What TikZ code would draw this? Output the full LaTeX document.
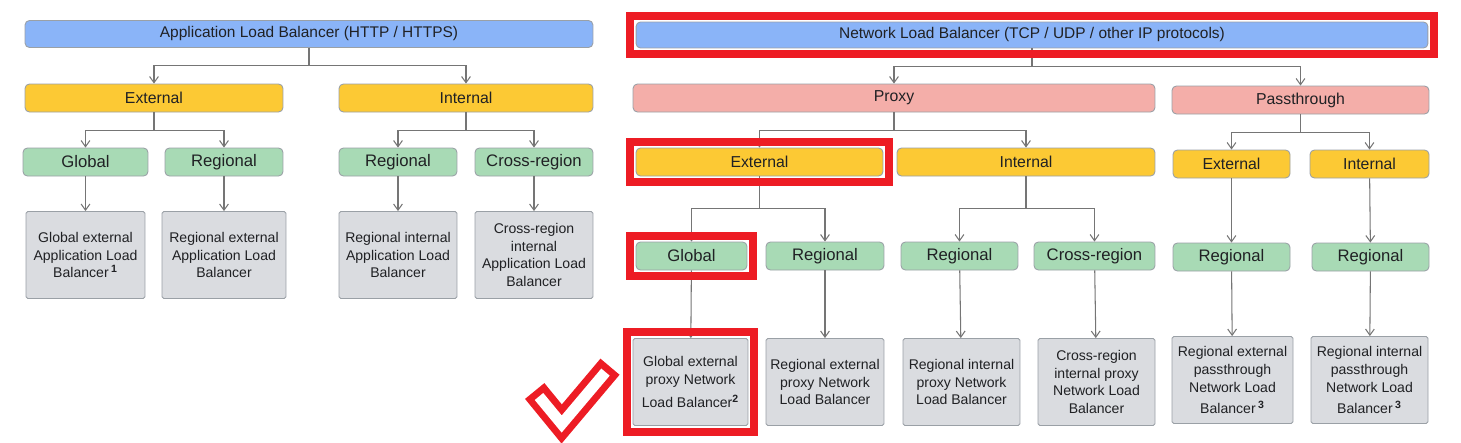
\documentclass[tikz,border=0pt]{standalone}
\usepackage{fontspec}
\setmainfont{Liberation Sans}
\usetikzlibrary{arrows.meta}

\definecolor{lbblue}{HTML}{8AB4F8}
\definecolor{lbyellow}{HTML}{FCC934}
\definecolor{lbpink}{HTML}{F4AEA9}
\definecolor{lbgreen}{HTML}{A8DAB5}
\definecolor{lbgray}{HTML}{DADCE0}
\definecolor{lbedge}{HTML}{9AA0A6}
\definecolor{lbline}{HTML}{757575}
\definecolor{lbred}{HTML}{ED1C24}
\definecolor{lbtext}{HTML}{202124}

\begin{document}
\begin{tikzpicture}[x=0.02cm, y=-0.02cm,
    basebox/.style={draw=lbedge, line width=0.5pt, rounded corners=2.5pt, inner sep=0pt, text=lbtext},
    toplevel/.style={basebox, fill=lbblue, minimum height=0.54cm, font=\fontsize{8.8}{10}\selectfont},
    kindbox/.style={basebox, fill=lbyellow, minimum height=0.56cm, font=\fontsize{9}{11}\selectfont},
    modebox/.style={basebox, fill=lbpink, minimum height=0.56cm, font=\fontsize{9}{11}\selectfont},
    areabox/.style={basebox, fill=lbgreen, minimum height=0.56cm, font=\fontsize{9.5}{11}\selectfont},
    leafbox/.style={basebox, fill=lbgray, rounded corners=1pt, minimum height=1.74cm, align=center, font=\fontsize{8}{10.2}\selectfont},
    conn/.style={draw=lbline, line width=0.6pt, -{Straight Barb[length=3.5pt,width=5pt]}},
    redframe/.style={draw=lbred, line width=0.16cm}]

  \useasboundingbox (0,0) rectangle (1461,443);

  % Application Load Balancer tree
  \node[toplevel, minimum width=11.36cm] (alb) at (309,34) {Application Load Balancer (HTTP / HTTPS)};
  \node[kindbox, minimum width=5.16cm] (albext) at (154,98) {External};
  \node[kindbox, minimum width=5.08cm] (albint) at (466,98) {Internal};
  \node[areabox, minimum width=2.5cm] (albglob) at (85.5,162) {Global};
  \node[areabox, minimum width=2.36cm] (albextreg) at (224,162) {Regional};
  \node[areabox, minimum width=2.36cm] (albintreg) at (398,162) {Regional};
  \node[areabox, minimum width=2.36cm] (albcross) at (534,162) {Cross-region};
  \node[leafbox, minimum width=2.38cm] (albglobleaf) at (85.5,255) {Global external\\Application Load\\Balancer\,\textsuperscript{\textbf{1}}};
  \node[leafbox, minimum width=2.48cm] (albextregleaf) at (224,255) {Regional external\\Application Load\\Balancer};
  \node[leafbox, minimum width=2.36cm] (albintregleaf) at (398,255) {Regional internal\\Application Load\\Balancer};
  \node[leafbox, minimum width=2.36cm] (albcrossleaf) at (534,255) {Cross-region\\internal\\Application Load\\Balancer};

  % Network Load Balancer tree
  \node[toplevel, minimum width=15.84cm, minimum height=0.52cm] (nlb) at (1032,35) {Network Load Balancer (TCP / UDP / other IP protocols)};
  \node[modebox, minimum width=10.44cm] (proxy) at (894,98) {Proxy};
  \node[modebox, minimum width=5.14cm] (pass) at (1300.5,100) {Passthrough};
  \node[kindbox, minimum width=4.94cm] (pext) at (759.5,162) {External};
  \node[kindbox, minimum width=5.16cm] (pint) at (1026,162) {Internal};
  \node[kindbox, minimum width=2.34cm] (passext) at (1231.5,164) {External};
  \node[kindbox, minimum width=2.38cm] (passint) at (1369.5,164) {Internal};
  \node[areabox, minimum width=2.22cm] (pglob) at (691.5,256) {Global};
  \node[areabox, minimum width=2.36cm] (pextreg) at (825,256) {Regional};
  \node[areabox, minimum width=2.34cm] (pintreg) at (959.5,256) {Regional};
  \node[areabox, minimum width=2.42cm] (pcross) at (1094.5,256) {Cross-region};
  \node[areabox, minimum width=2.34cm] (passextreg) at (1231.5,257) {Regional};
  \node[areabox, minimum width=2.34cm] (passintreg) at (1370.5,257) {Regional};
  \node[leafbox, minimum width=2.3cm] (pglobleaf) at (690.5,382) {Global external\\proxy Network\\[2.8pt]Load Balancer\textsuperscript{\textbf{2}}};
  \node[leafbox, minimum width=2.36cm] (pextregleaf) at (825,382) {Regional external\\proxy Network\\Load Balancer};
  \node[leafbox, minimum width=2.34cm] (pintregleaf) at (961.5,382) {Regional internal\\proxy Network\\Load Balancer};
  \node[leafbox, minimum width=2.34cm] (pcrossleaf) at (1096.5,382) {Cross-region\\internal proxy\\Network Load\\Balancer};
  \node[leafbox, minimum width=2.42cm] (passextleaf) at (1232.5,380) {Regional external\\passthrough\\Network Load\\[2pt]Balancer\,\textsuperscript{\textbf{3}}};
  \node[leafbox, minimum width=2.34cm] (passintleaf) at (1369.5,380) {Regional internal\\passthrough\\Network Load\\[2pt]Balancer\,\textsuperscript{\textbf{3}}};

  % elbow connectors
  \foreach \p/\c in {alb/albext, alb/albint, albext/albglob, albext/albextreg, albint/albintreg, albint/albcross,
                     nlb/proxy, nlb/pass, proxy/pext, proxy/pint, pass/passext, pass/passint} {
    \draw[conn] (\p.south) -- ++(0,18) -| (\c.north);
  }
  \foreach \p/\c in {pext/pglob, pext/pextreg, pint/pintreg, pint/pcross} {
    \draw[conn] (\p.south) -- ++(0,32) -| (\c.north);
  }

  % straight connectors
  \foreach \p/\c in {albglob/albglobleaf, albextreg/albextregleaf, albintreg/albintregleaf, albcross/albcrossleaf,
                     pglob/pglobleaf, pextreg/pextregleaf, pintreg/pintregleaf, pcross/pcrossleaf,
                     passext/passextreg, passint/passintreg, passextreg/passextleaf, passintreg/passintleaf} {
    \draw[conn] (\p) -- (\c);
  }

  % highlights
  \foreach \n in {nlb, pext, pglob, pglobleaf} {
    \draw[redframe] ([xshift=-0.12cm,yshift=0.12cm]\n.north west) rectangle ([xshift=0.12cm,yshift=-0.12cm]\n.south east);
  }
  \draw[lbred, line width=0.5cm, line join=miter] (534.7,391) -- (561.7,424) -- (610,366.7);
  \draw[white, line width=0.22cm, line join=miter] (539,396.5) -- (561.7,424) -- (605.5,372.1);

\end{tikzpicture}
\end{document}
